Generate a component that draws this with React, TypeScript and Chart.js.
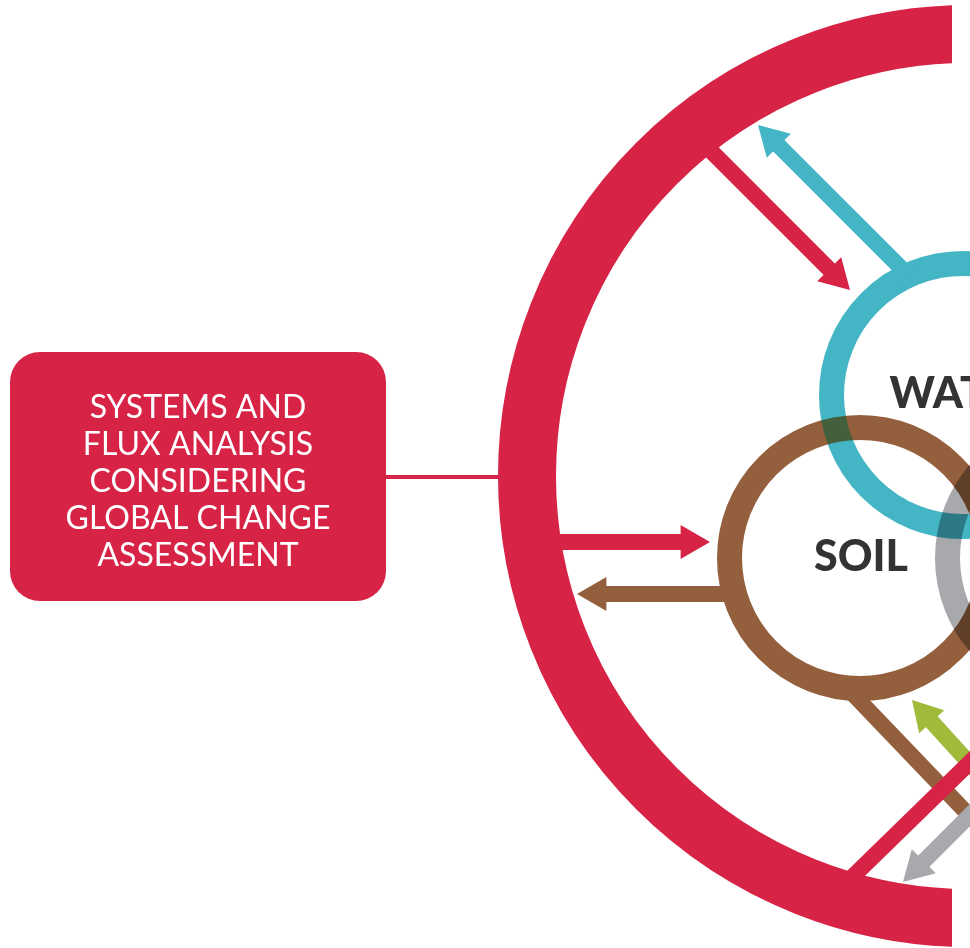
import React, { useEffect, useRef } from 'react';
import { Chart, registerables } from 'chart.js';

Chart.register(...registerables);

const W = 970;
const H = 948;

// ---- Rings (diagram units, 1 unit = 1 px) ----
const RING_NAMES = ['Global change', 'Water', 'Soil', 'Waste'];
const RING_TEXT = ['', 'WATER', 'SOIL', ''];
const RING_X = [969, 963, 860, 1078];
const RING_Y = [476, 395, 558, 558];
const RING_OUTER = [471, 144, 143, 143];
const RING_BAND = [58, 25, 25, 25];

// ---- Flows (arrows and connecting bars) ----
const FLOW_NAMES = ['red in (top)', 'water out (top)', 'red in (left)', 'soil out (left)', 'soil link', 'green out', 'grey out', 'red link'];
const FLOW_X0 = [703, 908, 540, 735, 852, 1000, 1000, 840];
const FLOW_Y0 = [143, 275, 542, 594, 693, 797, 785, 889];
const FLOW_X1 = [850, 758, 710, 577, 965, 912, 903, 1000];
const FLOW_Y1 = [290, 125, 542, 594, 811, 700, 882, 733];
const FLOW_HEAD = [true, true, true, true, false, true, true, false];
const FLOW_COLOR_KEY = ['red', 'cyan', 'red', 'brown', 'brown', 'green', 'grey', 'red'];

// ---- Left box ----
const BOX_LINES = ['SYSTEMS AND', 'FLUX ANALYSIS', 'CONSIDERING', 'GLOBAL CHANGE', 'ASSESSMENT'];
const BOX_X = [10, 386];
const BOX_Y = [352, 601];
const CONNECTOR_X = [386, 510];
const CONNECTOR_Y = [477, 477];
const FRAME_CLIP_X = 952;

// ---- Styles ----
const COLORS: Record<string, string> = {
  red: '#d72346',
  cyan: '#43b5c4',
  brown: '#935f3c',
  grey: '#a7a9ac',
  green: '#a0ba3a',
  text: '#333333',
};
const RING_COLOR_KEY = ['red', 'cyan', 'brown', 'grey'];
const RING_BLEND = [undefined, undefined, 'darken', 'multiply'];
const SHAFT_WIDTH = 16;
const HEAD_R = 19.6;

const blendPlugin = {
  id: 'blendPlugin',
  beforeDatasetDraw(chart: any, args: any) {
    const ds = chart.data.datasets[args.index];
    if (ds && ds.blend) chart.ctx.globalCompositeOperation = ds.blend;
  },
  afterDatasetDraw(chart: any) {
    chart.ctx.globalCompositeOperation = 'source-over';
  },
};

const textPlugin = {
  id: 'textPlugin',
  beforeDatasetsDraw(chart: any) {
    const { ctx } = chart;
    const xs = chart.scales.x;
    const ys = chart.scales.y;
    const x0 = xs.getPixelForValue(BOX_X[0]);
    const x1 = xs.getPixelForValue(BOX_X[1]);
    const y0 = ys.getPixelForValue(BOX_Y[0]);
    const y1 = ys.getPixelForValue(BOX_Y[1]);
    ctx.save();
    ctx.fillStyle = COLORS.red;
    ctx.beginPath();
    ctx.roundRect(x0, y0, x1 - x0, y1 - y0, 30);
    ctx.fill();
    ctx.fillStyle = '#ffffff';
    ctx.font = '32px Lato, "Open Sans", sans-serif';
    ctx.textAlign = 'center';
    ctx.textBaseline = 'middle';
    const cx = (x0 + x1) / 2;
    const cy = (y0 + y1) / 2 + 5;
    const lh = 37;
    BOX_LINES.forEach((t, i) => {
      ctx.fillText(t, cx, cy + (i - (BOX_LINES.length - 1) / 2) * lh);
    });
    ctx.restore();
  },
  afterDatasetsDraw(chart: any) {
    const { ctx } = chart;
    const xs = chart.scales.x;
    const ys = chart.scales.y;
    ctx.save();
    ctx.fillStyle = COLORS.text;
    ctx.font = '900 43px Lato, "Open Sans", sans-serif';
    ctx.textAlign = 'center';
    ctx.textBaseline = 'middle';
    RING_TEXT.forEach((t, i) => {
      if (!t) return;
      ctx.fillText(t, xs.getPixelForValue(RING_X[i]) + 1, ys.getPixelForValue(RING_Y[i]) - 1);
    });
    ctx.restore();
  },
};

function buildDatasets() {
  const list: any[] = [];
  const ring = (i: number) => ({
    type: 'scatter',
    label: RING_NAMES[i],
    data: [{ x: RING_X[i], y: RING_Y[i] }],
    pointRadius: RING_OUTER[i] - RING_BAND[i] / 2,
    pointBorderWidth: RING_BAND[i],
    pointBackgroundColor: 'rgba(0,0,0,0)',
    pointBorderColor: COLORS[RING_COLOR_KEY[i]],
    pointStyle: 'circle',
    blend: RING_BLEND[i],
    clip: i === 0 ? { left: 0, top: 0, bottom: 0, right: FRAME_CLIP_X - W } : false,
  });
  list.push(ring(0));
  list.push({
    type: 'line',
    label: 'connector',
    data: [{ x: CONNECTOR_X[0], y: CONNECTOR_Y[0] }, { x: CONNECTOR_X[1], y: CONNECTOR_Y[1] }],
    borderColor: COLORS.red,
    borderWidth: 4,
    borderCapStyle: 'butt',
    pointRadius: 0,
    fill: false,
    tension: 0,
  });
  for (let i = 1; i < RING_NAMES.length; i++) list.push(ring(i));
  FLOW_NAMES.forEach((name, i) => {
    const color = COLORS[FLOW_COLOR_KEY[i]];
    const dx = FLOW_X1[i] - FLOW_X0[i];
    const dy = FLOW_Y1[i] - FLOW_Y0[i];
    const len = Math.hypot(dx, dy);
    const ux = dx / len;
    const uy = dy / len;
    const back = FLOW_HEAD[i] ? HEAD_R * 1.2 : 0;
    list.push({
      type: 'line',
      label: name,
      data: [
        { x: FLOW_X0[i], y: FLOW_Y0[i] },
        { x: FLOW_X1[i] - ux * back, y: FLOW_Y1[i] - uy * back },
      ],
      borderColor: color,
      borderWidth: SHAFT_WIDTH,
      borderCapStyle: 'butt',
      pointRadius: 0,
      fill: false,
      tension: 0,
    });
    if (FLOW_HEAD[i]) {
      list.push({
        type: 'scatter',
        label: name + ' head',
        data: [{ x: FLOW_X1[i] - ux * HEAD_R, y: FLOW_Y1[i] - uy * HEAD_R }],
        pointStyle: 'triangle',
        pointRadius: HEAD_R,
        pointRotation: (Math.atan2(ux, -uy) * 180) / Math.PI,
        pointBackgroundColor: color,
        pointBorderWidth: 0,
      });
    }
  });
  const n = list.length;
  list.forEach((d, i) => {
    d.order = n - i;
  });
  return list;
}

export default function App() {
  const ref = useRef<HTMLCanvasElement | null>(null);
  useEffect(() => {
    document.body.style.margin = '0';
    document.body.style.background = '#ffffff';
    if (!ref.current) return;
    const chart = new Chart(ref.current, {
      type: 'scatter',
      data: { datasets: buildDatasets() as any },
      options: {
        animation: false,
        responsive: false,
        events: [],
        layout: { padding: 0, autoPadding: false },
        plugins: { legend: { display: false }, tooltip: { enabled: false }, title: { display: false } },
        scales: {
          x: { type: 'linear', min: 0, max: W, display: false },
          y: { type: 'linear', min: 0, max: H, reverse: true, display: false },
        },
      },
      plugins: [blendPlugin, textPlugin],
    } as any);
    return () => chart.destroy();
  }, []);
  return (
    <div style={{ width: W, height: H, background: '#ffffff' }}>
      <canvas ref={ref} width={W} height={H} style={{ display: 'block' }} />
    </div>
  );
}
